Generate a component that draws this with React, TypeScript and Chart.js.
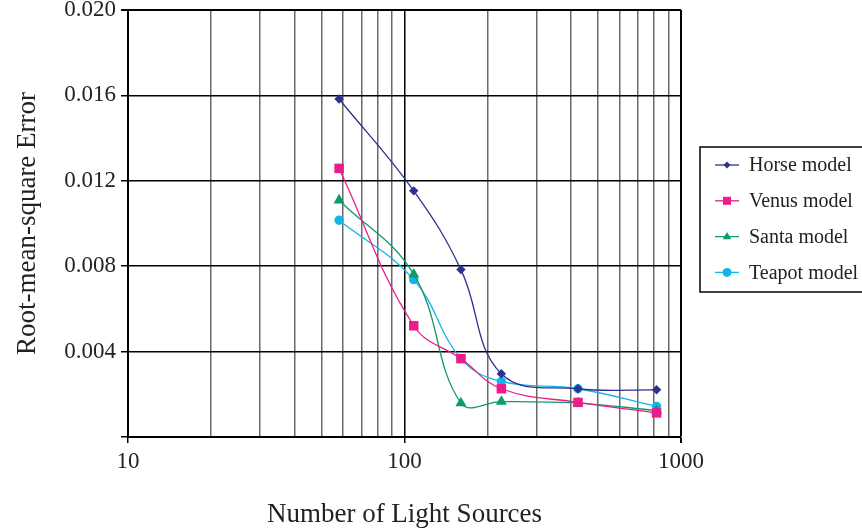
import React, { useEffect, useRef } from 'react';
import { Chart, registerables } from 'chart.js';

Chart.register(...registerables);

const lightSources = [58, 108, 160, 224, 424, 816];
const horse = [0.01583, 0.01153, 0.00784, 0.00296, 0.00226, 0.00221];
const venus = [0.01258, 0.00521, 0.00367, 0.00226, 0.00162, 0.00113];
const santa = [0.01109, 0.00762, 0.00159, 0.00166, 0.00159, 0.00124];
const teapot = [0.01015, 0.00737, 0.00367, 0.0026, 0.00226, 0.00143];

const seriesNames = ['Horse model', 'Venus model', 'Santa model', 'Teapot model'];
const seriesValues = [horse, venus, santa, teapot];
const seriesColors = ['#2e3192', '#ec1c8c', '#0e9b6b', '#12b4ec'];
const pointStyles = ['rectRot', 'rect', 'triangle', 'circle'];
const pointRadii = [4.7, 6.7, 6.4, 4.7];

const yTicks = [0, 0.004, 0.008, 0.012, 0.016, 0.02];
const xTicks = [10, 20, 30, 40, 50, 60, 70, 80, 90, 100, 200, 300, 400, 500, 600, 700, 800, 900, 1000];
const xMajor = [10, 100, 1000];

const FONT = '"Liberation Serif", "Times New Roman", serif';

function drawMarker(ctx: CanvasRenderingContext2D, style: string, x: number, y: number, r: number, color: string) {
  ctx.save();
  ctx.fillStyle = color;
  ctx.beginPath();
  if (style === 'rectRot') {
    ctx.moveTo(x, y - r);
    ctx.lineTo(x + r, y);
    ctx.lineTo(x, y + r);
    ctx.lineTo(x - r, y);
    ctx.closePath();
  } else if (style === 'rect') {
    ctx.rect(x - r, y - r, 2 * r, 2 * r);
  } else if (style === 'triangle') {
    ctx.moveTo(x, y - r);
    ctx.lineTo(x + r * 0.95, y + r * 0.6);
    ctx.lineTo(x - r * 0.95, y + r * 0.6);
    ctx.closePath();
  } else {
    ctx.arc(x, y, r, 0, Math.PI * 2);
  }
  ctx.fill();
  ctx.restore();
}

const boxLegend = {
  id: 'boxLegend',
  afterDraw(chart: any) {
    const ctx: CanvasRenderingContext2D = chart.ctx;
    const area = chart.chartArea;
    const left = area.right + 19;
    const mid = (area.top + area.bottom) / 2;
    const top = mid - 76.5;
    const bottom = mid + 68.5;
    ctx.save();
    ctx.strokeStyle = '#000';
    ctx.lineWidth = 1.5;
    ctx.strokeRect(left, top, 200, bottom - top);
    const step = 35.8;
    const firstY = top + 18;
    ctx.font = `20px ${FONT}`;
    ctx.textBaseline = 'middle';
    ctx.textAlign = 'left';
    seriesNames.forEach((name, i) => {
      const y = firstY + i * step;
      ctx.strokeStyle = seriesColors[i];
      ctx.lineWidth = 1.3;
      ctx.beginPath();
      ctx.moveTo(left + 15, y);
      ctx.lineTo(left + 39, y);
      ctx.stroke();
      drawMarker(ctx, pointStyles[i], left + 27, y, i === 0 ? 3.5 : i === 1 ? 4 : 4.5, seriesColors[i]);
      ctx.fillStyle = '#222';
      ctx.fillText(name, left + 49, y + 1);
    });
    ctx.restore();
  },
};

export default function App() {
  const ref = useRef<HTMLCanvasElement | null>(null);

  useEffect(() => {
    if (!ref.current) return;
    const datasets = seriesNames.map((name, i) => ({
      label: name,
      data: lightSources.map((x, j) => ({ x, y: seriesValues[i][j] })),
      borderColor: seriesColors[i],
      backgroundColor: seriesColors[i],
      borderWidth: 1.3,
      pointStyle: pointStyles[i],
      pointRadius: pointRadii[i],
      pointBorderWidth: 0,
      tension: 0.4,
      fill: false,
    }));

    const chart = new Chart(ref.current, {
      type: 'line',
      data: { datasets },
      plugins: [boxLegend],
      options: {
        animation: false,
        responsive: true,
        maintainAspectRatio: false,
        layout: { padding: { top: 10, right: 181, bottom: 0, left: 0 } },
        plugins: {
          legend: { display: false },
          tooltip: { enabled: false },
        },
        scales: {
          x: {
            type: 'logarithmic',
            min: 10,
            max: 1000,
            afterBuildTicks: (s: any) => {
              s.ticks = xTicks.map((v) => ({ value: v }));
            },
            afterFit: (s: any) => {
              s.height = 94;
            },
            ticks: {
              autoSkip: false,
              maxRotation: 0,
              color: '#222',
              font: { family: FONT, size: 23 },
              padding: 5,
              callback: (v: any) => (xMajor.includes(Number(v)) ? String(v) : ''),
            },
            grid: {
              color: (c: any) => (xMajor.includes(c.tick?.value) ? '#000' : '#6a6a6a'),
              lineWidth: (c: any) => (c.tick?.value === 1000 ? 2 : 1.5),
              tickColor: (c: any) => (xMajor.includes(c.tick?.value) ? '#000' : 'rgba(0,0,0,0)'),
              tickLength: 6,
            },
            border: { display: true, color: '#000', width: 2 },
            title: {
              display: true,
              text: 'Number of Light Sources',
              color: '#222',
              font: { family: FONT, size: 27 },
              padding: { top: 0, bottom: 0 },
            },
          },
          y: {
            type: 'linear',
            min: 0,
            max: 0.02,
            afterBuildTicks: (s: any) => {
              s.ticks = yTicks.map((v) => ({ value: v }));
            },
            afterFit: (s: any) => {
              s.width = 128;
              s.paddingTop = 0;
              s.paddingBottom = 0;
            },
            ticks: {
              color: '#222',
              font: { family: FONT, size: 23 },
              padding: 5,
              callback: (v: any) => (Number(v) === 0 ? '' : Number(v).toFixed(3)),
            },
            grid: {
              color: '#000',
              lineWidth: (c: any) => (c.tick?.value === 0.02 ? 2 : 1.5),
              tickLength: 7,
            },
            border: { display: true, color: '#000', width: 2 },
            title: {
              display: true,
              text: 'Root-mean-square Error',
              color: '#222',
              font: { family: FONT, size: 27 },
              padding: { top: 12, bottom: 0 },
            },
          },
        },
      },
    } as any);
    return () => chart.destroy();
  }, []);

  return (
    <div style={{ position: 'fixed', left: 0, top: 0, width: 862, height: 531, background: '#fff' }}>
      <canvas ref={ref} />
    </div>
  );
}
